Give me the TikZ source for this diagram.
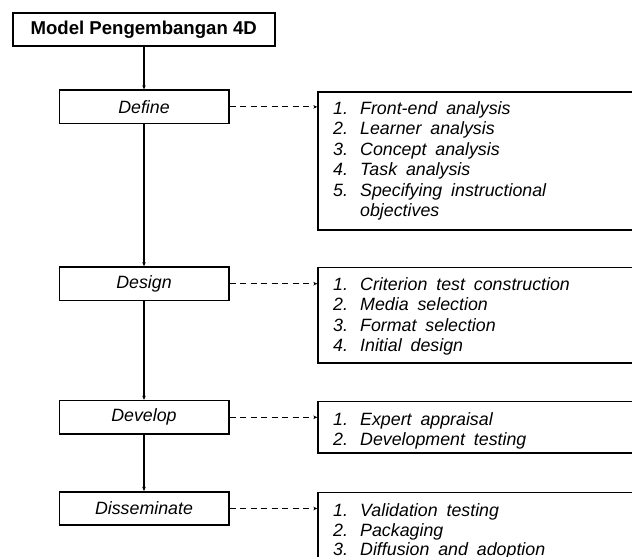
\documentclass[tikz,border=0pt]{standalone}
\usepackage{fontspec}
\setmainfont{Liberation Sans}
\usetikzlibrary{arrows.meta}
\newcommand{\listfont}{\fontsize{17.8}{20}\selectfont\itshape\spaceskip 0.5em\relax}
\newcommand{\itemnum}[1]{\makebox[27pt][l]{#1}}
\begin{document}
\begin{tikzpicture}[x=1pt,y=-1pt,
  titlebox/.style={draw,line width=1.7pt,minimum width=262pt,minimum height=33.3pt,inner sep=0pt,
    font=\fontsize{18.6}{20}\selectfont\bfseries},
  stage/.style={draw,line width=1.6pt,minimum width=169.4pt,minimum height=33.4pt,inner sep=0pt,
    font=\fontsize{17.8}{20}\selectfont\itshape},
  listbox/.style={draw,line width=1.6pt,anchor=north west,minimum width=400pt,inner sep=0pt},
  item/.style={anchor=base west,inner sep=0pt,font=\listfont},
  flow/.style={line width=1.2pt,-{Stealth[length=4pt,width=3.5pt]}},
  dflow/.style={line width=1.2pt,dash pattern=on 6pt off 4.5pt,-{Stealth[length=4pt,width=3.5pt]}}
]
\useasboundingbox (0,0) rectangle (632,557);
\clip (0,0) rectangle (632,557);

\node[titlebox] (title) at (143.7,29.35) {Model Pengembangan 4D};

\node[stage] (def) at (144,106.85) {Define};
\node[stage] (des) at (144,283.7) {Design};
\node[stage] (dev) at (144,417.3) {Develop};
\node[stage] (dis) at (144,508.5) {Disseminate};

\node[listbox,minimum height=138.3pt] (b1) at (317.3,91) {};
\node[listbox,minimum height=95.6pt] (b2) at (317.3,266.7) {};
\node[listbox,minimum height=51.6pt] (b3) at (317.3,400.7) {};
\node[listbox,minimum height=120pt] (b4) at (317.3,491.7) {};

\node[item] (i11) at (333,114.0) {\itemnum{1.}Front-end analysis};
\node[item] (i12) at (333,134.5) {\itemnum{2.}Learner analysis};
\node[item] (i13) at (333,155.0) {\itemnum{3.}Concept analysis};
\node[item] (i14) at (333,175.5) {\itemnum{4.}Task analysis};
\node[item] (i15) at (333,196.0) {\itemnum{5.}Specifying instructional};
\node[item] (i16) at (333,216.5) {\itemnum{}objectives};

\node[item] (i21) at (333,290.0) {\itemnum{1.}Criterion test construction};
\node[item] (i22) at (333,310.5) {\itemnum{2.}Media selection};
\node[item] (i23) at (333,331.0) {\itemnum{3.}Format selection};
\node[item] (i24) at (333,351.5) {\itemnum{4.}Initial design};

\node[item] (i31) at (333,425.0) {\itemnum{1.}Expert appraisal};
\node[item] (i32) at (333,445.5) {\itemnum{2.}Development testing};

\node[item] (i41) at (333,516.0) {\itemnum{1.}Validation testing};
\node[item] (i42) at (333,536.5) {\itemnum{2.}Packaging};
\node[item] (i43) at (333,555.5) {\itemnum{3.}Diffusion and adoption};

\draw[flow] (def.north |- title.south) -- (def.north);
\draw[flow] (def.south) -- (des.north);
\draw[flow] (des.south) -- (dev.north);
\draw[flow] (dev.south) -- (dis.north);

\draw[dflow] (def.east) -- (def.east -| b1.west);
\draw[dflow] (des.east) -- (des.east -| b2.west);
\draw[dflow] (dev.east) -- (dev.east -| b3.west);
\draw[dflow] (dis.east) -- (dis.east -| b4.west);
\end{tikzpicture}
\end{document}
